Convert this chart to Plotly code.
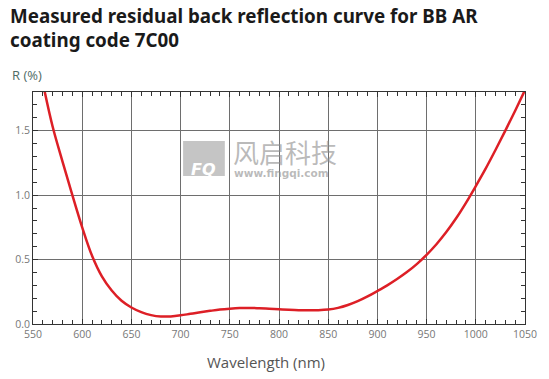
import plotly.graph_objects as go

wavelength = [560, 570, 580, 590, 600, 610, 620, 630, 640, 650, 660, 670, 680, 690, 700,
              710, 720, 730, 740, 750, 760, 770, 780, 790, 800, 810, 820, 830, 840, 850,
              860, 870, 880, 890, 900, 910, 920, 930, 940, 950, 960, 970, 980, 990, 1000,
              1010, 1020, 1030, 1040, 1050]
reflectance = [1.87, 1.53, 1.26, 1.00, 0.75, 0.53, 0.37, 0.26, 0.18, 0.128, 0.092, 0.069, 0.058, 0.059, 0.067,
               0.079, 0.091, 0.102, 0.112, 0.119, 0.124, 0.125, 0.122, 0.118, 0.114, 0.110, 0.107, 0.106, 0.107, 0.112,
               0.125, 0.147, 0.177, 0.214, 0.256, 0.300, 0.349, 0.403, 0.465, 0.537, 0.619, 0.713, 0.820, 0.940, 1.070,
               1.205, 1.350, 1.500, 1.655, 1.815]
x_ticks = [550, 600, 650, 700, 750, 800, 850, 900, 950, 1000, 1050]
y_ticks = [0.0, 0.5, 1.0, 1.5]
y_ticktext = ["0.0", "0.5", "1.0", "1.5"]

L, R, T, B = 33, 21, 92, 55
PW, PH = 549 - L - R, 379 - T - B


def px(x):
    return (x - L) / PW


def py(y):
    return (379 - B - y) / PH


fig = go.Figure()
fig.add_trace(go.Scatter(x=wavelength, y=reflectance, mode="lines",
                         line=dict(color="#dd1f26", width=2.5, shape="spline", smoothing=1.0),
                         hoverinfo="skip", showlegend=False))

axis_common = dict(showgrid=True, gridcolor="#6e6e6e", gridwidth=1,
                   showline=True, linecolor="#333", linewidth=1, mirror="ticks",
                   ticks="inside", ticklen=5, tickcolor="#333",
                   tickfont=dict(size=10.5, color="#777"), zeroline=False)

fig.update_layout(
    width=549, height=379,
    margin=dict(l=L, r=R, t=T, b=B),
    paper_bgcolor="white", plot_bgcolor="white",
    font=dict(family="Open Sans", color="#666"),
    xaxis=dict(range=[550, 1050], tickvals=x_ticks,
               minor=dict(dtick=10, ticks="inside", ticklen=4, tickcolor="#333", showgrid=False),
               **axis_common),
    yaxis=dict(range=[0, 1.8], tickvals=y_ticks, ticktext=y_ticktext,
               minor=dict(dtick=0.1, ticks="inside", ticklen=4, tickcolor="#333", showgrid=False),
               **axis_common),
)

fig.add_annotation(text="<b>Measured residual back reflection curve for BB AR</b>", xref="paper", yref="paper",
                   x=px(8), y=py(1), xanchor="left", yanchor="top", showarrow=False,
                   font=dict(family="Noto Sans", size=18.8, color="#1a1a1a"))
fig.add_annotation(text="<b>coating code 7C00</b>", xref="paper", yref="paper",
                   x=px(8), y=py(25), xanchor="left", yanchor="top", showarrow=False,
                   font=dict(family="Noto Sans", size=18.8, color="#1a1a1a"))
fig.add_annotation(text="R (%)", xref="paper", yref="paper",
                   x=px(10), y=py(75), xanchor="left", yanchor="middle", showarrow=False,
                   font=dict(family="Open Sans", size=13, color="#4f6b66"))
fig.add_annotation(text="Wavelength (nm)", xref="paper", yref="paper",
                   x=px(267), y=py(362), xanchor="center", yanchor="middle", showarrow=False,
                   font=dict(family="Open Sans", size=15, color="#555"))

# watermark
fig.add_shape(type="rect", xref="paper", yref="paper",
              x0=px(184), x1=px(226), y0=py(176), y1=py(141),
              fillcolor="rgba(150,150,150,0.55)", line=dict(width=0), layer="above")
fig.add_annotation(text="<b><i>FQ</i></b>", xref="paper", yref="paper",
                   x=px(205), y=py(158), showarrow=False,
                   font=dict(family="DejaVu Sans", size=16, color="white"))
fig.add_annotation(text="风启科技", xref="paper", yref="paper",
                   x=px(233), y=py(151), xanchor="left", yanchor="middle", showarrow=False,
                   font=dict(family="Noto Sans CJK SC", size=26, color="rgba(140,140,140,0.6)"),
                   borderpad=0)
fig.add_annotation(text="<b>www.fingqi.com</b>", xref="paper", yref="paper",
                   x=px(234), y=py(172.5), xanchor="left", yanchor="middle", showarrow=False,
                   font=dict(family="DejaVu Sans", size=10.5, color="rgba(140,140,140,0.6)"),
                   borderpad=0)

fig.write_html("out.html", config={"displayModeBar": False},
               post_script="document.body.style.margin='0px';document.body.style.padding='0px';")
